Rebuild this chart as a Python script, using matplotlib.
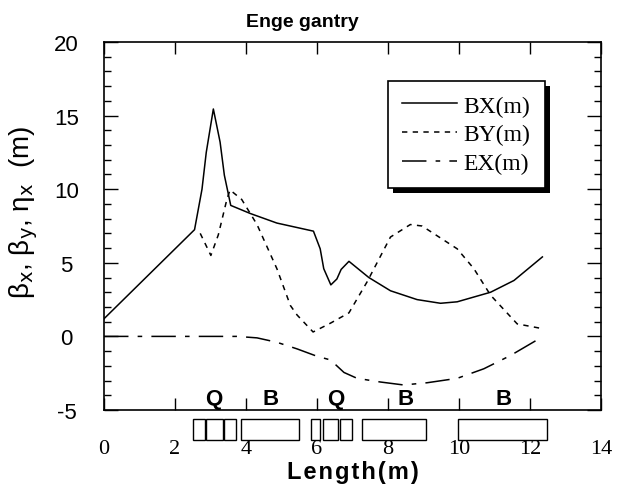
import matplotlib
matplotlib.use('Agg')
import matplotlib.pyplot as plt
import matplotlib.transforms as mtransforms
import matplotlib.patheffects as pe
from matplotlib.patches import Rectangle
from matplotlib.ticker import MultipleLocator

plt.rcParams['font.family'] = ['Liberation Sans', 'DejaVu Sans']
plt.rcParams['axes.unicode_minus'] = False

# beta x (solid)
s_bx = [0.0, 2.55, 2.76, 2.88, 3.08, 3.27, 3.39, 3.57, 4.12, 4.87, 5.90, 6.09, 6.19,
        6.39, 6.56, 6.68, 6.90, 7.46, 8.07, 8.82, 9.48, 9.95, 10.89, 11.55, 12.35]
bx = [1.2, 7.25, 10.0, 12.5, 15.45, 13.2, 10.95, 8.9, 8.35, 7.7, 7.15, 5.95, 4.6,
      3.5, 3.9, 4.55, 5.1, 4.0, 3.1, 2.5, 2.25, 2.35, 3.0, 3.8, 5.4]
# beta y (dotted)
s_by = [2.71, 3.01, 3.22, 3.46, 3.55, 3.88, 4.31, 4.87, 5.25, 5.44, 5.89, 6.38, 6.90,
        7.41, 8.07, 8.63, 8.96, 9.95, 10.42, 10.89, 11.64, 12.30]
by = [7.0, 5.5, 6.9, 9.3, 9.95, 9.3, 7.6, 4.6, 2.1, 1.45, 0.3, 0.9, 1.6,
      3.7, 6.75, 7.6, 7.5, 5.95, 4.6, 2.8, 0.85, 0.55]
# eta x (dash-dot)
s_ex = [0.0, 3.74, 4.31, 4.87, 5.44, 6.0, 6.38, 6.76, 7.13, 7.79, 8.44, 9.10, 9.95,
        10.70, 11.45, 12.30]
ex = [0.0, 0.0, -0.1, -0.4, -0.85, -1.35, -1.6, -2.45, -2.85, -3.1, -3.3, -3.15, -2.85,
      -2.2, -1.3, -0.1]

# lattice elements (start, end)
quads = [(2.50, 2.85), (2.87, 3.34), (3.39, 3.71), (5.83, 6.09), (6.16, 6.60), (6.65, 6.98)]
bends = [(3.86, 5.50), (7.27, 9.07), (9.96, 12.49)]
elem_names = ['Q', 'B', 'Q', 'B', 'B']
elem_pos = [3.08, 4.68, 6.52, 8.49, 11.26]

fig = plt.figure(figsize=(6.17, 4.85), dpi=100)
ax = fig.add_axes([0.1686, 0.1526, 0.8054, 0.7587])

l1, = ax.plot(s_bx, bx, color='black', lw=1.1, label='BX(m)')
l2, = ax.plot(s_by, by, color='black', lw=1.1, linestyle=(0, (3.5, 3.5)), label='BY(m)')
l3, = ax.plot(s_ex, ex, color='black', lw=1.1, linestyle=(0, (16, 6, 3, 6)), label='EX(m)')

ax.set_xlim(0, 14)
ax.set_ylim(-5, 20)
ax.xaxis.set_major_locator(MultipleLocator(2))
ax.yaxis.set_major_locator(MultipleLocator(5))
ax.yaxis.set_minor_locator(MultipleLocator(1))
ax.tick_params(which='both', direction='in', top=True, right=True, width=1.0)
ax.tick_params(axis='x', which='major', length=8.5, pad=21, labelsize=16)
ax.tick_params(axis='y', which='major', length=10, pad=27, labelsize=16)
ax.tick_params(axis='y', which='minor', length=5)
for lbl in ax.get_xticklabels():
    lbl.set_fontfamily('Liberation Serif')
for lbl in ax.get_yticklabels():
    lbl.set_horizontalalignment('center')
for sp in ax.spines.values():
    sp.set_linewidth(1.2)

# element labels inside the frame
for name, pos in zip(elem_names, elem_pos):
    ax.text(pos, -4.25, name, ha='center', va='center', fontsize=16, fontweight='bold')

# lattice boxes under the frame
trans = mtransforms.blended_transform_factory(ax.transData, ax.transAxes)
for s0, s1 in quads + bends:
    ax.add_patch(Rectangle((s0, -0.0815), s1 - s0, 0.057, transform=trans,
                           fill=False, edgecolor='black', lw=1.0, clip_on=False))

ax.set_xlabel('L\u200ae\u200an\u200ag\u200at\u200ah\u200a(\u200am\u200a)', fontsize=17,
              fontweight='bold', labelpad=1)
fig.text(0.49, 0.953, 'Enge gantry', ha='center', va='center', fontsize=14, fontweight='bold')
fig.text(0.039, 0.563, r'β$_{\mathrm{x}}$, β$_{\mathrm{y}}$, η$_{\mathrm{x}}$  (m)',
         rotation=90, ha='center', va='center', fontsize=20)

leg = ax.legend(handles=[l1, l2, l3], loc='upper right', bbox_to_anchor=(0.887, 0.894),
                borderaxespad=0, fancybox=False, handlelength=2.3, handletextpad=0.3,
                labelspacing=0.3, borderpad=0.6, prop={'family': 'Liberation Serif', 'size': 17})
frame = leg.get_frame()
frame.set_edgecolor('black')
frame.set_linewidth(1.2)
frame.set_alpha(1)
# black drop shadow on the legend box
frame.set_path_effects([pe.SimplePatchShadow(offset=(3.6, -3.6), shadow_rgbFace='black', alpha=1),
                        pe.Normal()])

fig.savefig('out.png', dpi=100)
